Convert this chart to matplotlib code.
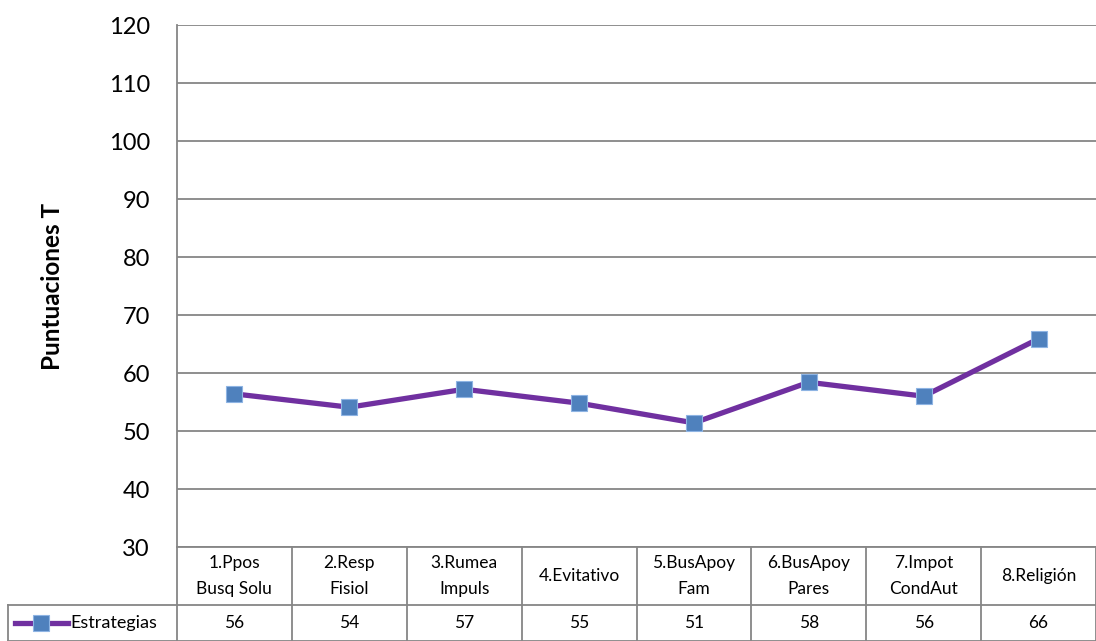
import numpy as np
import matplotlib.pyplot as plt
import matplotlib.transforms as mtransforms
from matplotlib.lines import Line2D

plt.rcParams['font.family'] = ['Lato', 'DejaVu Sans']

# Puntuaciones T por estrategia de afrontamiento
categorias = ["1.Ppos\nBusq Solu", "2.Resp\nFisiol", "3.Rumea\nImpuls", "4.Evitativo",
              "5.BusApoy\nFam", "6.BusApoy\nPares", "7.Impot\nCondAut", "8.Religión"]
estrategias = [56.4, 54.1, 57.2, 54.8, 51.4, 58.4, 56.0, 65.9]
serie = "Estrategias"
y_ticks = list(range(30, 121, 10))

linea = "#7030A0"
marca = "#4F81BD"
gris = "#868686"

W, H = 1096, 641
fig = plt.figure(figsize=(W / 100, H / 100), dpi=100)
ax = fig.add_axes([177 / W, (H - 547) / H, 919 / W, 522 / H])

x = np.arange(len(categorias))
ax.plot(x, estrategias, color=linea, lw=3.8, marker="s", ms=11,
        mfc=marca, mec="#8EB4E3", mew=0.8, zorder=3, clip_on=False)

ax.set_xlim(-0.5, len(categorias) - 0.5)
ax.set_ylim(30, 120)
ax.set_yticks(y_ticks)
ax.set_yticklabels([str(t) for t in y_ticks], fontsize=17)
ax.tick_params(axis="y", length=0, pad=19.5)
ax.set_xticks([])
ax.yaxis.grid(True, color=gris, lw=1.3)
ax.set_axisbelow(True)
for s in ["top", "right", "bottom"]:
    ax.spines[s].set_visible(False)
ax.spines["left"].set_color(gris)
ax.spines["left"].set_linewidth(1.3)

ax.set_ylabel("Puntuaciones T", fontsize=17.5, fontweight="bold", labelpad=32)

# tabla de datos bajo el eje
tr = mtransforms.blended_transform_factory(ax.transData, ax.transAxes)
y0, y1, y2 = 0.0, -58 / 522, -94 / 522
x_leg = -0.5 - 169 / 115
kw = dict(color=gris, lw=1.3, transform=tr, clip_on=False)

n = len(categorias)
ax.plot([-0.5, n - 0.5], [y0, y0], **kw)
ax.plot([x_leg, n - 0.5], [y1, y1], **kw)
ax.plot([x_leg, n - 0.5], [y2, y2], **kw)
ax.plot([x_leg, x_leg], [y1, y2], **kw)
for i in range(n + 1):
    ax.plot([i - 0.5, i - 0.5], [y0, y2], **kw)

for i, (cat, v) in enumerate(zip(categorias, estrategias)):
    ax.text(i, (y0 + y1) / 2, cat, transform=tr, ha="center", va="center",
            fontsize=12.5, linespacing=1.75)
    ax.text(i, (y1 + y2) / 2, f"{v:.0f}", transform=tr, ha="center",
            va="center", fontsize=12.5)

# muestra de la serie en la celda de leyenda
ym = (y1 + y2) / 2
ax.add_line(Line2D([x_leg + 0.06, x_leg + 0.52], [ym, ym], color=linea, lw=3.8,
                   transform=tr, clip_on=False))
ax.add_line(Line2D([x_leg + 0.29], [ym], marker="s", ms=11, mfc=marca,
                   mec="#8EB4E3", mew=0.8, transform=tr, clip_on=False))
ax.text(x_leg + 0.54, ym, serie, transform=tr, ha="left", va="center", fontsize=13)

fig.savefig("out.png", dpi=100)
